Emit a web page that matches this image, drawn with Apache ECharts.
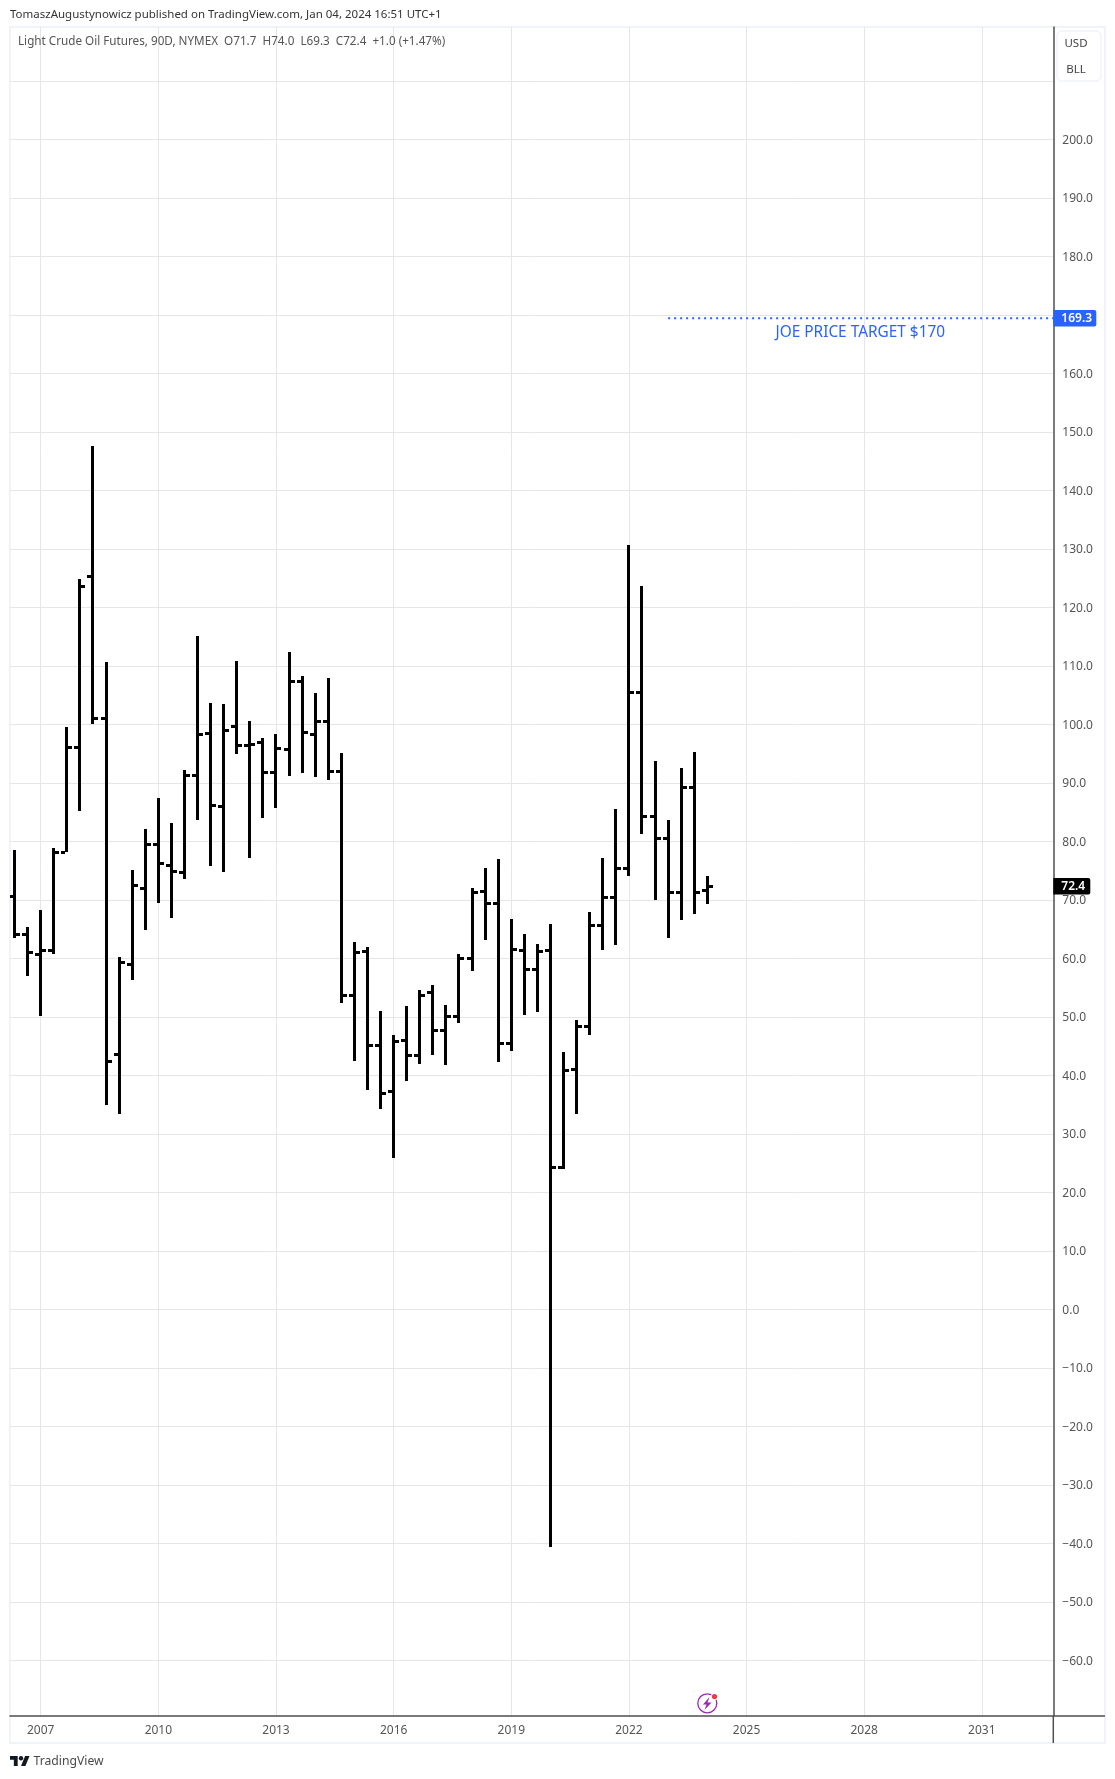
<!DOCTYPE html>
<html><head><meta charset="utf-8">
<style>html,body{margin:0;padding:0;background:#fff}#c{width:1115px;height:1779px}</style>
<script src="https://cdn.jsdelivr.net/npm/echarts@6/dist/echarts.min.js"></script>
</head><body><div id="c"></div>
<script>
const opens  = [70.6,64.2,60.8,61.5,78.2,96.1,125.3,101.0,43.6,59.1,72.1,79.5,76.0,74.7,91.3,98.6,86.0,99.7,96.5,97.0,91.8,95.7,107.4,98.4,100.5,92.0,53.7,61.2,45.1,37.4,46.0,43.5,54.2,47.7,50.2,60.1,71.5,69.4,45.6,61.5,58.1,61.5,24.3,41.0,48.4,65.7,70.5,75.5,105.6,84.3,80.5,71.3,89.3,71.7];
const highs  = [78.5,65.4,68.3,78.9,99.5,124.9,147.6,110.7,60.2,75.1,82.1,87.4,83.1,92.2,115.1,103.6,103.4,110.8,100.5,97.6,98.3,112.4,108.2,105.3,107.9,95.1,62.8,61.9,51.0,46.9,51.8,54.5,55.4,52.1,60.7,72.0,75.4,76.9,66.7,64.1,62.4,65.9,43.9,49.5,68.0,77.2,85.5,130.7,123.7,93.8,83.7,92.5,95.3,74.0];
const lows   = [63.4,56.9,50.2,60.7,78.1,85.2,100.0,35.0,33.4,56.3,64.9,69.4,66.9,73.5,83.7,75.7,74.8,95.0,77.2,83.9,85.7,91.2,91.7,91.0,90.4,52.3,42.4,37.5,34.3,25.9,39.1,42.0,43.5,41.8,49.0,57.9,63.2,42.2,44.2,50.3,50.9,-40.6,24.0,33.4,46.9,61.5,62.3,74.1,81.2,70.0,63.5,66.6,67.6,69.3];
const closes = [64.2,61.1,61.5,78.2,96.2,123.6,101.0,42.5,59.3,72.5,79.5,76.3,75.0,91.4,98.4,86.2,99.1,96.5,96.6,91.8,96.0,107.4,98.7,100.5,92.0,53.7,61.1,45.2,36.9,45.9,43.5,53.8,47.7,50.2,60.1,71.3,69.4,45.6,61.6,58.1,61.2,24.4,40.9,48.4,65.7,70.5,75.4,105.6,84.3,80.5,71.3,89.3,71.3,72.4];
const tickBars  = [2,11,20,29,38,47,56,65,74];
const tickYears = ['2007','2010','2013','2016','2019','2022','2025','2028','2031'];
const priceTicks = [-60,-50,-40,-30,-20,-10,0,10,20,30,40,50,60,70,80,90,100,110,120,130,140,150,160,170,180,190,200,210];
const priceLabelTicks = [-60,-50,-40,-30,-20,-10,0,10,20,30,40,50,60,70,80,90,100,110,120,130,140,150,160,180,190,200];
const targetLevel = 169.4, targetLabel = '169.3', lastPrice = 72.4, lastLabel = '72.4', targetStartBar = 50;
const targetText = 'JOE PRICE TARGET $170';
const headerText = 'TomaszAugustynowicz published on TradingView.com, Jan 04, 2024 16:51 UTC+1';
const legendText = 'Light Crude Oil Futures, 90D, NYMEX  O71.7  H74.0  L69.3  C72.4  +1.0 (+1.47%)';

const ohlc = opens.map((o,i)=>[i,o,highs[i],lows[i],closes[i]]);
const FONT = 'Noto Sans';
const GRIDC = '#e6e6e9', AXC = '#4f4f52', TXT = '#555';

function renderBar(params, api){
  const i = api.value(0);
  const x = Math.floor(api.coord([i,0])[0]);
  const yo = Math.round(api.coord([i,api.value(1)])[1]);
  const yh = Math.round(api.coord([i,api.value(2)])[1]);
  const yl = Math.round(api.coord([i,api.value(3)])[1]);
  const yc = Math.round(api.coord([i,api.value(4)])[1]);
  const style = {fill:'#000'};
  return {type:'group',children:[
    {type:'rect',shape:{x:x-1,y:yh,width:3,height:yl-yh},style},
    {type:'rect',shape:{x:x-5,y:yo-1,width:4,height:3},style},
    {type:'rect',shape:{x:x+2,y:yc-1,width:4,height:3},style}
  ]};
}
function priceTag(color, w, text){
  return function(params, api){
    const p = api.coord([api.value(0),api.value(1)]);
    const right = params.coordSys.x + params.coordSys.width;
    return {type:'group',children:[
      {type:'rect',shape:{x:right,y:Math.round(p[1])-8,width:w,height:16.5,r:[0,2,2,0]},style:{fill:color}},
      {type:'text',style:{x:right+8,y:Math.round(p[1])+0.5,text:text,fill:'#fff',font:'600 12px "'+FONT+'"',align:'left',verticalAlign:'middle'}}
    ]};
  };
}
const chart = echarts.init(document.getElementById('c'),null,{renderer:'canvas'});
chart.setOption({
  animation:false,
  backgroundColor:'#fff',
  grid:{left:10,top:27,width:1043.3,height:1689,containLabel:false},
  xAxis:{type:'value',min:-0.3497,max:79.466,scale:true,
    axisLine:{show:true,onZero:false,lineStyle:{color:AXC,width:1.5}},
    axisTick:{show:false,customValues:tickBars},
    axisLabel:{customValues:tickBars,color:TXT,fontFamily:FONT,fontSize:12,margin:9,hideOverlap:false,showMinLabel:true,showMaxLabel:true,
      formatter:v=>tickYears[tickBars.indexOf(v)]||''},
    splitLine:{show:true,lineStyle:{color:GRIDC,width:1}}},
  yAxis:{type:'value',position:'right',min:-69.52,max:219.2,scale:true,
    axisLine:{show:true,onZero:false,lineStyle:{color:AXC,width:1.5}},
    axisTick:{show:false,customValues:priceTicks},
    axisLabel:{customValues:priceLabelTicks,color:TXT,fontFamily:FONT,fontSize:12,margin:9,align:'left',
      formatter:v=>'{a|'+(v<0?'\u2212':'')+Math.abs(v).toFixed(1)+'}',
      rich:{a:{color:TXT,fontFamily:FONT,fontSize:12,padding:[2,0,0,0]}}},
    splitLine:{show:true,lineStyle:{color:GRIDC,width:1}}},
  series:[
    {name:'Light Crude Oil Futures',type:'custom',renderItem:renderBar,data:ohlc,encode:{x:0,y:[1,2,3,4]},z:5,clip:true},
    {name:'Target',type:'line',data:[[targetStartBar,targetLevel],[79.466,targetLevel]],symbol:'none',z:4,silent:true,
      lineStyle:{color:'#2962ff',width:2,type:[2,4]}},
    {name:'TargetTag',type:'custom',renderItem:priceTag('#2962ff',43,targetLabel),data:[[79.466,targetLevel]],z:6,clip:false,silent:true},
    {name:'LastTag',type:'custom',renderItem:priceTag('#000',37,lastLabel),data:[[79.466,lastPrice]],z:6,clip:false,silent:true},
    {name:'TargetText',type:'custom',silent:true,clip:false,z:6,data:[[64.7,targetLevel]],
      renderItem:(p,api)=>{const c=api.coord([api.value(0),api.value(1)]);
        return {type:'text',style:{x:c[0],y:c[1]+14,text:targetText,fill:'#2962ff',font:'15.4px "'+FONT+'"',align:'center',verticalAlign:'middle'}};}}
  ],
  graphic:{elements:[
    {type:'rect',silent:true,z:0,shape:{x:10,y:27,width:1095,height:1716},style:{fill:'none',stroke:'#f0f3fa',lineWidth:2}},
    {type:'line',silent:true,z:10,shape:{x1:1053.3,y1:1716,x2:1053.3,y2:1743},style:{stroke:AXC,lineWidth:1.5}},
    {type:'line',silent:true,z:10,shape:{x1:1053,y1:1716,x2:1105,y2:1716},style:{stroke:AXC,lineWidth:1.5}},
    {type:'rect',silent:true,z:10,shape:{x:1057,y:31,width:44,height:50,r:5},style:{fill:'#fff',stroke:'#f0f3fa',lineWidth:1.5}},
    {type:'text',silent:true,z:11,style:{x:1076,y:44,text:'USD',fill:'#444',font:'11.5px "'+FONT+'"',align:'center',verticalAlign:'middle'}},
    {type:'text',silent:true,z:11,style:{x:1076,y:70,text:'BLL',fill:'#444',font:'11.5px "'+FONT+'"',align:'center',verticalAlign:'middle'}},
    {type:'text',silent:true,z:11,style:{x:10,y:15,text:headerText,fill:'#333',font:'11.5px "'+FONT+'"',verticalAlign:'middle'}},
    {type:'text',silent:true,z:11,style:{x:18,y:42,text:legendText,fill:'#555',font:'11.7px "'+FONT+'"',verticalAlign:'middle'}},
    {type:'circle',silent:true,z:11,shape:{cx:707.3,cy:1703.3,r:9.5},style:{fill:'none',stroke:'#9c27b0',lineWidth:1.3}},
    {type:'polygon',silent:true,z:11,shape:{points:[[709.5,1697],[703,1704.5],[706.5,1704.5],[704.5,1710],[711.5,1702.5],[707.5,1702.5]]},style:{fill:'#9c27b0'}},
    {type:'circle',silent:true,z:12,shape:{cx:714.5,cy:1696.5,r:3.6},style:{fill:'#fff'}},
    {type:'circle',silent:true,z:13,shape:{cx:714.5,cy:1696.5,r:2.6},style:{fill:'#f23645'}},
    {type:'group',silent:true,z:11,x:10,y:1753.8,scaleX:0.55,scaleY:0.55,children:[
      {type:'polygon',shape:{points:[[0,4],[14,4],[14,22],[7,22],[7,11],[0,11]]},style:{fill:'#131722'}},
      {type:'polygon',shape:{points:[[20,22],[28,22],[35.5,4],[27.5,4]]},style:{fill:'#131722'}},
      {type:'circle',shape:{cx:20,cy:8,r:4},style:{fill:'#131722'}}]},
    {type:'text',silent:true,z:11,style:{x:33.5,y:1762,text:'TradingView',fill:'#4a4a4a',font:'12.2px "'+FONT+'"',verticalAlign:'middle'}}
  ]}
});
</script></body></html>
